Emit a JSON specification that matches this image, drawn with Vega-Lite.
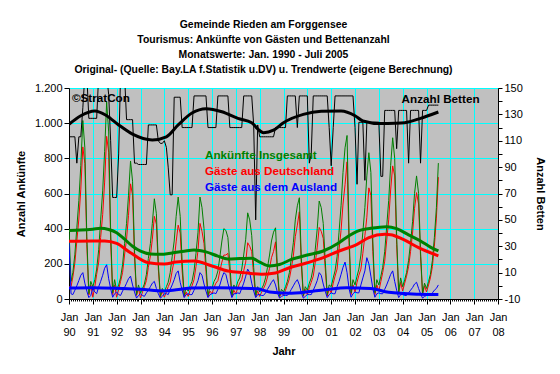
{
"$schema": "https://vega.github.io/schema/vega-lite/v6.json",
"width": 429, "height": 211,
"autosize": {"type": "none"},
"padding": {"left": 69, "top": 88, "right": 62, "bottom": 75},
"background": "white",
"config": {
 "view": {"fill": "#C0C0C0", "stroke": "#808080"},
 "font": "Liberation Sans",
 "axis": {"labelFont": "Liberation Sans", "labelFontSize": 11, "labelColor": "black", "titleFont": "Liberation Sans", "titleFontSize": 11, "titleFontWeight": "bold", "titleColor": "black", "domainColor": "black", "tickColor": "black", "gridColor": "#00FFFF", "gridOpacity": 1}
},
"title": {"text": ["Gemeinde Rieden am Forggensee", "Tourismus: Ankünfte von Gästen und Bettenanzahl", "Monatswerte: Jan. 1990 - Juli 2005", "Original- (Quelle: Bay.LA f.Statistik u.DV) u. Trendwerte (eigene Berechnung)"], "font": "Liberation Sans", "fontSize": 10.4, "fontWeight": "bold", "color": "black", "anchor": "middle", "dx": -20, "offset": 7, "lineHeight": 14.8},
"datasets": {
 "monat": [
{"m":"1990-01","ges":390,"de":70,"aus":320,"bet":113},
{"m":"1990-02","ges":100,"de":70,"aus":30,"bet":113},
{"m":"1990-03","ges":150,"de":125,"aus":25,"bet":113},
{"m":"1990-04","ges":255,"de":205,"aus":50,"bet":113},
{"m":"1990-05","ges":405,"de":330,"aus":75,"bet":93},
{"m":"1990-06","ges":560,"de":455,"aus":105,"bet":113},
{"m":"1990-07","ges":760,"de":625,"aus":135,"bet":113},
{"m":"1990-08","ges":1015,"de":865,"aus":150,"bet":135},
{"m":"1990-09","ges":860,"de":770,"aus":90,"bet":160},
{"m":"1990-10","ges":355,"de":310,"aus":45,"bet":160},
{"m":"1990-11","ges":30,"de":22,"aus":8,"bet":127},
{"m":"1990-12","ges":100,"de":80,"aus":20,"bet":127},
{"m":"1991-01","ges":70,"de":10,"aus":60,"bet":127},
{"m":"1991-02","ges":110,"de":70,"aus":40,"bet":127},
{"m":"1991-03","ges":170,"de":140,"aus":30,"bet":127},
{"m":"1991-04","ges":280,"de":210,"aus":70,"bet":160},
{"m":"1991-05","ges":450,"de":350,"aus":100,"bet":160},
{"m":"1991-06","ges":615,"de":480,"aus":135,"bet":160},
{"m":"1991-07","ges":840,"de":665,"aus":175,"bet":160},
{"m":"1991-08","ges":1120,"de":925,"aus":195,"bet":160},
{"m":"1991-09","ges":950,"de":835,"aus":115,"bet":145},
{"m":"1991-10","ges":390,"de":330,"aus":60,"bet":110},
{"m":"1991-11","ges":35,"de":25,"aus":10,"bet":67},
{"m":"1991-12","ges":110,"de":80,"aus":30,"bet":67},
{"m":"1992-01","ges":50,"de":10,"aus":40,"bet":67},
{"m":"1992-02","ges":80,"de":55,"aus":25,"bet":100},
{"m":"1992-03","ges":120,"de":100,"aus":20,"bet":160},
{"m":"1992-04","ges":195,"de":150,"aus":45,"bet":160},
{"m":"1992-05","ges":315,"de":250,"aus":65,"bet":160},
{"m":"1992-06","ges":430,"de":340,"aus":90,"bet":126},
{"m":"1992-07","ges":590,"de":475,"aus":115,"bet":126},
{"m":"1992-08","ges":785,"de":655,"aus":130,"bet":126},
{"m":"1992-09","ges":670,"de":590,"aus":80,"bet":126},
{"m":"1992-10","ges":275,"de":235,"aus":40,"bet":93},
{"m":"1992-11","ges":25,"de":20,"aus":5,"bet":93},
{"m":"1992-12","ges":80,"de":60,"aus":20,"bet":92},
{"m":"1993-01","ges":35,"de":5,"aus":30,"bet":92},
{"m":"1993-02","ges":60,"de":40,"aus":20,"bet":92},
{"m":"1993-03","ges":85,"de":70,"aus":15,"bet":92},
{"m":"1993-04","ges":140,"de":105,"aus":35,"bet":92},
{"m":"1993-05","ges":230,"de":180,"aus":50,"bet":122},
{"m":"1993-06","ges":315,"de":245,"aus":70,"bet":122},
{"m":"1993-07","ges":430,"de":340,"aus":90,"bet":122},
{"m":"1993-08","ges":570,"de":470,"aus":100,"bet":122},
{"m":"1993-09","ges":485,"de":425,"aus":60,"bet":122},
{"m":"1993-10","ges":200,"de":170,"aus":30,"bet":110},
{"m":"1993-11","ges":15,"de":10,"aus":5,"bet":108},
{"m":"1993-12","ges":60,"de":45,"aus":15,"bet":108},
{"m":"1994-01","ges":40,"de":10,"aus":30,"bet":110},
{"m":"1994-02","ges":70,"de":40,"aus":30,"bet":105},
{"m":"1994-03","ges":95,"de":70,"aus":25,"bet":90},
{"m":"1994-04","ges":150,"de":95,"aus":55,"bet":69},
{"m":"1994-05","ges":240,"de":160,"aus":80,"bet":69},
{"m":"1994-06","ges":330,"de":220,"aus":110,"bet":143},
{"m":"1994-07","ges":470,"de":325,"aus":145,"bet":143},
{"m":"1994-08","ges":580,"de":420,"aus":160,"bet":143},
{"m":"1994-09","ges":470,"de":375,"aus":95,"bet":143},
{"m":"1994-10","ges":210,"de":160,"aus":50,"bet":120},
{"m":"1994-11","ges":20,"de":12,"aus":8,"bet":120},
{"m":"1994-12","ges":65,"de":40,"aus":25,"bet":120},
{"m":"1995-01","ges":45,"de":15,"aus":30,"bet":120},
{"m":"1995-02","ges":75,"de":50,"aus":25,"bet":120},
{"m":"1995-03","ges":100,"de":75,"aus":25,"bet":120},
{"m":"1995-04","ges":160,"de":110,"aus":50,"bet":144},
{"m":"1995-05","ges":260,"de":185,"aus":75,"bet":144},
{"m":"1995-06","ges":380,"de":275,"aus":105,"bet":144},
{"m":"1995-07","ges":580,"de":430,"aus":150,"bet":144},
{"m":"1995-08","ges":520,"de":385,"aus":135,"bet":144},
{"m":"1995-09","ges":400,"de":315,"aus":85,"bet":144},
{"m":"1995-10","ges":200,"de":155,"aus":45,"bet":144},
{"m":"1995-11","ges":20,"de":12,"aus":8,"bet":120},
{"m":"1995-12","ges":70,"de":45,"aus":25,"bet":120},
{"m":"1996-01","ges":60,"de":30,"aus":30,"bet":120},
{"m":"1996-02","ges":100,"de":65,"aus":35,"bet":120},
{"m":"1996-03","ges":120,"de":90,"aus":30,"bet":120},
{"m":"1996-04","ges":160,"de":105,"aus":55,"bet":144},
{"m":"1996-05","ges":240,"de":160,"aus":80,"bet":144},
{"m":"1996-06","ges":330,"de":210,"aus":120,"bet":144},
{"m":"1996-07","ges":400,"de":250,"aus":150,"bet":144},
{"m":"1996-08","ges":390,"de":250,"aus":140,"bet":144},
{"m":"1996-09","ges":350,"de":260,"aus":90,"bet":144},
{"m":"1996-10","ges":200,"de":150,"aus":50,"bet":120},
{"m":"1996-11","ges":20,"de":12,"aus":8,"bet":120},
{"m":"1996-12","ges":80,"de":50,"aus":30,"bet":120},
{"m":"1997-01","ges":60,"de":30,"aus":30,"bet":120},
{"m":"1997-02","ges":100,"de":65,"aus":35,"bet":120},
{"m":"1997-03","ges":120,"de":90,"aus":30,"bet":120},
{"m":"1997-04","ges":170,"de":110,"aus":60,"bet":120},
{"m":"1997-05","ges":250,"de":160,"aus":90,"bet":144},
{"m":"1997-06","ges":340,"de":210,"aus":130,"bet":144},
{"m":"1997-07","ges":490,"de":320,"aus":170,"bet":144},
{"m":"1997-08","ges":450,"de":300,"aus":150,"bet":144},
{"m":"1997-09","ges":360,"de":270,"aus":90,"bet":144},
{"m":"1997-10","ges":180,"de":135,"aus":45,"bet":122},
{"m":"1997-11","ges":20,"de":12,"aus":8,"bet":50},
{"m":"1997-12","ges":70,"de":45,"aus":25,"bet":122},
{"m":"1998-01","ges":40,"de":15,"aus":25,"bet":113},
{"m":"1998-02","ges":60,"de":40,"aus":20,"bet":113},
{"m":"1998-03","ges":80,"de":60,"aus":20,"bet":113},
{"m":"1998-04","ges":120,"de":85,"aus":35,"bet":113},
{"m":"1998-05","ges":180,"de":125,"aus":55,"bet":113},
{"m":"1998-06","ges":250,"de":175,"aus":75,"bet":113},
{"m":"1998-07","ges":330,"de":235,"aus":95,"bet":113},
{"m":"1998-08","ges":380,"de":270,"aus":110,"bet":113},
{"m":"1998-09","ges":405,"de":325,"aus":80,"bet":120},
{"m":"1998-10","ges":170,"de":135,"aus":35,"bet":120},
{"m":"1998-11","ges":15,"de":10,"aus":5,"bet":120},
{"m":"1998-12","ges":55,"de":40,"aus":15,"bet":120},
{"m":"1999-01","ges":40,"de":20,"aus":20,"bet":120},
{"m":"1999-02","ges":70,"de":50,"aus":20,"bet":120},
{"m":"1999-03","ges":100,"de":80,"aus":20,"bet":144},
{"m":"1999-04","ges":150,"de":115,"aus":35,"bet":144},
{"m":"1999-05","ges":230,"de":175,"aus":55,"bet":144},
{"m":"1999-06","ges":320,"de":245,"aus":75,"bet":144},
{"m":"1999-07","ges":450,"de":355,"aus":95,"bet":144},
{"m":"1999-08","ges":530,"de":420,"aus":110,"bet":120},
{"m":"1999-09","ges":576,"de":496,"aus":80,"bet":144},
{"m":"1999-10","ges":230,"de":195,"aus":35,"bet":144},
{"m":"1999-11","ges":20,"de":15,"aus":5,"bet":144},
{"m":"1999-12","ges":70,"de":55,"aus":15,"bet":144},
{"m":"2000-01","ges":50,"de":25,"aus":25,"bet":144},
{"m":"2000-02","ges":90,"de":65,"aus":25,"bet":93},
{"m":"2000-03","ges":120,"de":95,"aus":25,"bet":100},
{"m":"2000-04","ges":180,"de":130,"aus":50,"bet":144},
{"m":"2000-05","ges":280,"de":205,"aus":75,"bet":144},
{"m":"2000-06","ges":400,"de":295,"aus":105,"bet":144},
{"m":"2000-07","ges":557,"de":407,"aus":150,"bet":144},
{"m":"2000-08","ges":520,"de":385,"aus":135,"bet":144},
{"m":"2000-09","ges":430,"de":345,"aus":85,"bet":144},
{"m":"2000-10","ges":220,"de":175,"aus":45,"bet":144},
{"m":"2000-11","ges":25,"de":17,"aus":8,"bet":144},
{"m":"2000-12","ges":80,"de":55,"aus":25,"bet":120},
{"m":"2001-01","ges":70,"de":35,"aus":35,"bet":91},
{"m":"2001-02","ges":120,"de":90,"aus":30,"bet":120},
{"m":"2001-03","ges":160,"de":130,"aus":30,"bet":144},
{"m":"2001-04","ges":240,"de":170,"aus":70,"bet":144},
{"m":"2001-05","ges":380,"de":280,"aus":100,"bet":144},
{"m":"2001-06","ges":530,"de":390,"aus":140,"bet":144},
{"m":"2001-07","ges":720,"de":540,"aus":180,"bet":144},
{"m":"2001-08","ges":860,"de":650,"aus":210,"bet":144},
{"m":"2001-09","ges":930,"de":780,"aus":150,"bet":144},
{"m":"2001-10","ges":380,"de":320,"aus":60,"bet":144},
{"m":"2001-11","ges":35,"de":25,"aus":10,"bet":144},
{"m":"2001-12","ges":110,"de":80,"aus":30,"bet":144},
{"m":"2002-01","ges":80,"de":40,"aus":40,"bet":120},
{"m":"2002-02","ges":130,"de":95,"aus":35,"bet":77},
{"m":"2002-03","ges":170,"de":135,"aus":35,"bet":124},
{"m":"2002-04","ges":250,"de":170,"aus":80,"bet":124},
{"m":"2002-05","ges":380,"de":260,"aus":120,"bet":124},
{"m":"2002-06","ges":520,"de":360,"aus":160,"bet":80},
{"m":"2002-07","ges":700,"de":465,"aus":235,"bet":124},
{"m":"2002-08","ges":832,"de":632,"aus":200,"bet":124},
{"m":"2002-09","ges":720,"de":590,"aus":130,"bet":124},
{"m":"2002-10","ges":330,"de":270,"aus":60,"bet":124},
{"m":"2002-11","ges":35,"de":25,"aus":10,"bet":124},
{"m":"2002-12","ges":110,"de":80,"aus":30,"bet":124},
{"m":"2003-01","ges":80,"de":45,"aus":35,"bet":124},
{"m":"2003-02","ges":130,"de":100,"aus":30,"bet":83},
{"m":"2003-03","ges":180,"de":150,"aus":30,"bet":83},
{"m":"2003-04","ges":270,"de":215,"aus":55,"bet":133},
{"m":"2003-05","ges":410,"de":330,"aus":80,"bet":133},
{"m":"2003-06","ges":560,"de":450,"aus":110,"bet":133},
{"m":"2003-07","ges":760,"de":620,"aus":140,"bet":133},
{"m":"2003-08","ges":917,"de":757,"aus":160,"bet":133},
{"m":"2003-09","ges":800,"de":700,"aus":100,"bet":133},
{"m":"2003-10","ges":360,"de":310,"aus":50,"bet":104},
{"m":"2003-11","ges":40,"de":32,"aus":8,"bet":133},
{"m":"2003-12","ges":120,"de":95,"aus":25,"bet":133},
{"m":"2004-01","ges":70,"de":45,"aus":25,"bet":133},
{"m":"2004-02","ges":110,"de":90,"aus":20,"bet":133},
{"m":"2004-03","ges":150,"de":130,"aus":20,"bet":133},
{"m":"2004-04","ges":220,"de":185,"aus":35,"bet":93},
{"m":"2004-05","ges":320,"de":270,"aus":50,"bet":133},
{"m":"2004-06","ges":440,"de":375,"aus":65,"bet":133},
{"m":"2004-07","ges":600,"de":515,"aus":85,"bet":133},
{"m":"2004-08","ges":700,"de":605,"aus":95,"bet":133},
{"m":"2004-09","ges":600,"de":540,"aus":60,"bet":133},
{"m":"2004-10","ges":270,"de":240,"aus":30,"bet":93},
{"m":"2004-11","ges":30,"de":25,"aus":5,"bet":133},
{"m":"2004-12","ges":90,"de":75,"aus":15,"bet":133},
{"m":"2005-01","ges":60,"de":40,"aus":20,"bet":133},
{"m":"2005-02","ges":100,"de":80,"aus":20,"bet":137},
{"m":"2005-03","ges":140,"de":120,"aus":20,"bet":137},
{"m":"2005-04","ges":220,"de":185,"aus":35,"bet":137},
{"m":"2005-05","ges":350,"de":300,"aus":50,"bet":137},
{"m":"2005-06","ges":520,"de":460,"aus":60,"bet":137},
{"m":"2005-07","ges":773,"de":693,"aus":80,"bet":137}
 ],
 "trend": [
{"serie":"g","m":"1990-01","v":390},{"serie":"g","m":"1990-07","v":392},{"serie":"g","m":"1991-01","v":397},{"serie":"g","m":"1991-05","v":402},{"serie":"g","m":"1991-09","v":395},{"serie":"g","m":"1992-01","v":377},{"serie":"g","m":"1992-05","v":340},{"serie":"g","m":"1992-09","v":300},{"serie":"g","m":"1993-01","v":272},{"serie":"g","m":"1993-06","v":256},{"serie":"g","m":"1993-11","v":254},{"serie":"g","m":"1994-05","v":262},{"serie":"g","m":"1994-11","v":272},{"serie":"g","m":"1995-04","v":279},{"serie":"g","m":"1995-10","v":268},{"serie":"g","m":"1996-04","v":244},{"serie":"g","m":"1996-09","v":228},{"serie":"g","m":"1997-03","v":230},{"serie":"g","m":"1997-09","v":232},{"serie":"g","m":"1998-01","v":210},{"serie":"g","m":"1998-06","v":188},{"serie":"g","m":"1998-11","v":196},{"serie":"g","m":"1999-05","v":225},{"serie":"g","m":"2000-01","v":250},{"serie":"g","m":"2000-09","v":273},{"serie":"g","m":"2001-05","v":320},{"serie":"g","m":"2001-10","v":360},{"serie":"g","m":"2002-02","v":385},{"serie":"g","m":"2002-09","v":402},{"serie":"g","m":"2003-05","v":411},{"serie":"g","m":"2003-10","v":400},{"serie":"g","m":"2004-04","v":365},{"serie":"g","m":"2004-10","v":330},{"serie":"g","m":"2005-03","v":295},{"serie":"g","m":"2005-07","v":273},
{"serie":"r","m":"1990-01","v":328},{"serie":"r","m":"1991-01","v":330},{"serie":"r","m":"1991-07","v":330},{"serie":"r","m":"1992-01","v":316},{"serie":"r","m":"1992-08","v":263},{"serie":"r","m":"1993-05","v":206},{"serie":"r","m":"1994-01","v":199},{"serie":"r","m":"1994-07","v":210},{"serie":"r","m":"1995-04","v":216},{"serie":"r","m":"1996-01","v":188},{"serie":"r","m":"1996-09","v":159},{"serie":"r","m":"1997-05","v":150},{"serie":"r","m":"1998-02","v":141},{"serie":"r","m":"1998-08","v":146},{"serie":"r","m":"1999-04","v":178},{"serie":"r","m":"2000-01","v":206},{"serie":"r","m":"2000-09","v":235},{"serie":"r","m":"2001-05","v":273},{"serie":"r","m":"2002-02","v":311},{"serie":"r","m":"2002-08","v":349},{"serie":"r","m":"2003-04","v":368},{"serie":"r","m":"2003-07","v":366},{"serie":"r","m":"2004-01","v":340},{"serie":"r","m":"2004-09","v":292},{"serie":"r","m":"2005-07","v":245},
{"serie":"b","m":"1990-01","v":62},{"serie":"b","m":"1991-01","v":64},{"serie":"b","m":"1992-01","v":61},{"serie":"b","m":"1993-01","v":55},{"serie":"b","m":"1994-01","v":46},{"serie":"b","m":"1994-07","v":52},{"serie":"b","m":"1995-03","v":62},{"serie":"b","m":"1996-03","v":64},{"serie":"b","m":"1997-01","v":63},{"serie":"b","m":"1997-12","v":58},{"serie":"b","m":"1998-06","v":40},{"serie":"b","m":"1999-05","v":33},{"serie":"b","m":"2000-09","v":51},{"serie":"b","m":"2001-09","v":64},{"serie":"b","m":"2002-03","v":62},{"serie":"b","m":"2002-09","v":60},{"serie":"b","m":"2003-06","v":38},{"serie":"b","m":"2004-09","v":27},{"serie":"b","m":"2005-07","v":25}
 ],
 "bettTrend": [
{"m":"1990-01","bet":122.5},{"m":"1990-07","bet":129},{"m":"1991-02","bet":132.6},{"m":"1991-08","bet":129},{"m":"1992-02","bet":122},{"m":"1992-09","bet":115},{"m":"1993-07","bet":110.6},{"m":"1994-02","bet":113},{"m":"1994-08","bet":122},{"m":"1995-03","bet":131},{"m":"1995-10","bet":134.3},{"m":"1996-06","bet":132},{"m":"1997-02","bet":127},{"m":"1997-09","bet":123.7},{"m":"1997-12","bet":119},{"m":"1998-03","bet":116.1},{"m":"1998-08","bet":118},{"m":"1999-01","bet":123.7},{"m":"1999-11","bet":130},{"m":"2000-08","bet":132.3},{"m":"2001-06","bet":132.6},{"m":"2002-01","bet":129},{"m":"2002-05","bet":125},{"m":"2003-02","bet":123},{"m":"2003-09","bet":123.2},{"m":"2004-02","bet":123.7},{"m":"2004-10","bet":127},{"m":"2005-07","bet":131.8}
 ],
 "texte": [
{"m":"1995-09-16","v":819,"serie":"g","txt":"Ankünfte Insgesamt"},
{"m":"1995-09-16","v":728,"serie":"r","txt":"Gäste aus Deutschland"},
{"m":"1995-09-16","v":637,"serie":"b","txt":"Gäste aus dem Ausland"},
{"m":"2003-12-16","v":1137,"serie":"k","txt":"Anzahl Betten"},
{"m":"1990-02-15","v":1143,"serie":"k","txt":"©StratCon"}
 ]
},
"encoding": {
 "x": {"field": "m", "type": "temporal",
  "scale": {"type": "utc", "domain": [{"year": 1990, "month": 1, "date": 1, "utc": true}, {"year": 2008, "month": 1, "date": 1, "utc": true}]},
  "axis": {"title": "Jahr", "tickCount": {"interval": "month", "step": 1}, "labelExpr": "utcmonth(datum.value) == 0 ? ['Jan', utcFormat(datum.value, '%y')] : ''", "labelOverlap": false, "labelBound": false, "labelFlush": false, "labelLineHeight": 15, "labelPadding": 7, "tickSize": {"condition": {"test": "utcmonth(datum.value) == 0", "value": 5}, "value": 2}, "gridOpacity": {"condition": {"test": "utcmonth(datum.value) == 0", "value": 1}, "value": 0}, "grid": true, "titlePadding": 8}
 }
},
"layer": [
 {
  "encoding": {"y": {"field": "v", "type": "quantitative", "scale": {"domain": [0, 1200], "nice": false}, "axis": {"orient": "left", "title": "Anzahl Ankünfte", "values": [0, 200, 400, 600, 800, 1000, 1200], "labelExpr": "replace(format(datum.value, ','), ',', '.')", "grid": true, "tickSize": 5, "titlePadding": 8}}},
  "layer": [
   {"data": {"name": "monat"}, "transform": [{"fold": ["de"], "as": ["serie", "v"]}], "mark": {"type": "line", "color": "#FF0000", "strokeWidth": 1, "clip": true}},
   {"data": {"name": "monat"}, "transform": [{"fold": ["ges"], "as": ["serie", "v"]}], "mark": {"type": "line", "color": "#008000", "strokeWidth": 1, "clip": true}},
   {"data": {"name": "monat"}, "transform": [{"fold": ["aus"], "as": ["serie", "v"]}], "mark": {"type": "line", "color": "#0000FF", "strokeWidth": 1, "clip": true}}
  ]
 },
 {
  "encoding": {"y": {"field": "bet", "type": "quantitative", "scale": {"domain": [-10, 150], "nice": false}, "axis": {"orient": "right", "title": "Anzahl Betten", "values": [-10, 0, 10, 20, 30, 40, 50, 60, 70, 80, 90, 100, 110, 120, 130, 140, 150], "labelExpr": "(datum.value + 10) % 20 == 0 ? datum.value : ''", "grid": false, "tickSize": 4, "titlePadding": 12}}},
  "layer": [
   {"data": {"name": "monat"}, "mark": {"type": "line", "color": "black", "strokeWidth": 1, "clip": true}},
   {"data": {"name": "bettTrend"}, "mark": {"type": "line", "color": "black", "strokeWidth": 3, "interpolate": "monotone", "clip": true}}
  ]
 },
 {
  "encoding": {"y": {"field": "v", "type": "quantitative", "scale": {"domain": [0, 1200], "nice": false}, "axis": null}},
  "layer": [
   {"data": {"name": "trend"}, "mark": {"type": "line", "strokeWidth": 3, "interpolate": "monotone", "clip": true},
    "encoding": {"color": {"field": "serie", "type": "nominal", "scale": {"domain": ["g", "r", "b", "k"], "range": ["#008000", "#FF0000", "#0000FF", "#000000"]}, "legend": null}}},
   {"data": {"name": "texte"}, "mark": {"type": "text", "align": "left", "baseline": "middle", "font": "Liberation Sans", "fontSize": 11.7, "fontWeight": "bold"},
    "encoding": {"text": {"field": "txt"},
     "color": {"field": "serie", "type": "nominal", "scale": {"domain": ["g", "r", "b", "k"], "range": ["#008000", "#FF0000", "#0000FF", "#000000"]}, "legend": null}}}
  ]
 }
],
"resolve": {"scale": {"y": "independent"}, "axis": {"y": "independent"}}
}
